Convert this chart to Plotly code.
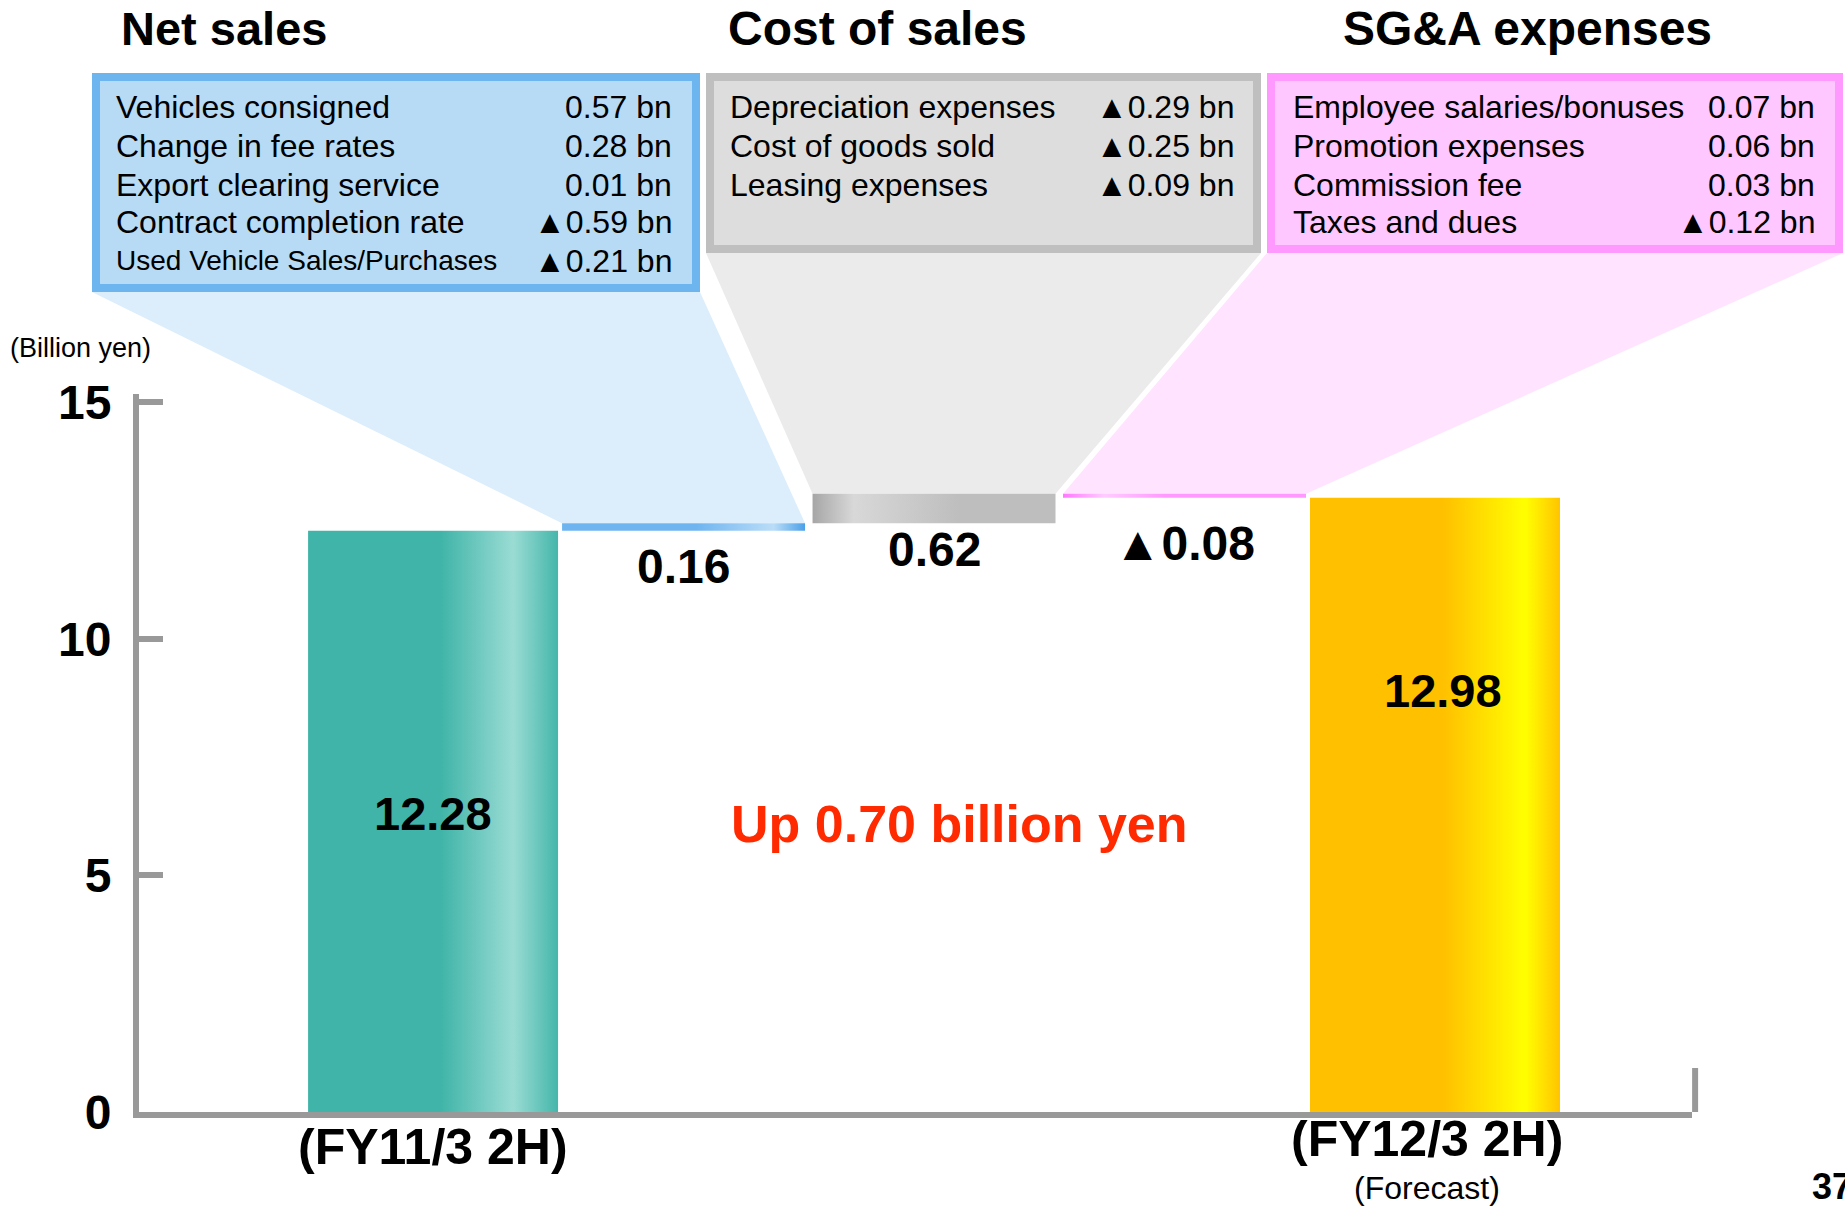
import plotly.graph_objects as go

# ---------------- data ----------------
period_labels = ["(FY11/3 2H)", "(FY12/3 2H)"]
period_note = "(Forecast)"
opening_total = 12.28
closing_total = 12.98
factor_names = ["Net sales", "Cost of sales", "SG&A expenses"]
factor_changes = [0.16, 0.62, -0.08]
summary_text = "Up 0.70 billion yen"
y_ticks = [0, 5, 10, 15]
y_unit = "(Billion yen)"
page_number = "37"

net_sales_items = ["Vehicles consigned", "Change in fee rates", "Export clearing service",
                   "Contract completion rate", "Used Vehicle Sales/Purchases"]
net_sales_values = [0.57, 0.28, 0.01, -0.59, -0.21]
cost_items = ["Depreciation expenses", "Cost of goods sold", "Leasing expenses"]
cost_values = [-0.29, -0.25, -0.09]
sga_items = ["Employee salaries/bonuses", "Promotion expenses", "Commission fee", "Taxes and dues"]
sga_values = [0.07, 0.06, 0.03, -0.12]

# ---------------- styling ----------------
W, H = 1845, 1210
M_L, M_R, M_T, M_B = 139, 153, 394, 98
X_RANGE = [-1.174, 5.026]
Y_RANGE = [0, 15.17]
FONT = "Liberation Sans, Arial, Helvetica, sans-serif"
AXIS_GREY = "#999999"

TOTAL_HALF = 0.499
STEP_HALF = 0.485

grad_teal = [[0, "#40B4A8"], [0.53, "#40B4A8"], [0.82, "#9ADCD4"], [1, "#45B6AA"]]
grad_yellow = [[0, "#FFC000"], [0.53, "#FFC000"], [0.86, "#FFFF00"], [1, "#FFC400"]]
grad_steps = [
    [[0, "#6EB4F0"], [0.55, "#6EB4F0"], [0.87, "#BADDF8"], [1, "#4AA0E8"]],
    [[0, "#A6A6A6"], [0.17, "#D8D8D8"], [0.6, "#BEBEBE"], [1, "#BEBEBE"]],
    [[0, "#FF77FF"], [0.17, "#FFCCFF"], [0.42, "#FF99FF"], [1, "#FF99FF"]],
]
box_style = [
    dict(x0=92, x1=700, y0=73, y1=292, line="#6DB5EF", fill="#B7DBF5", cone="#DCEDFB",
         left=114, right=674, size=32),
    dict(x0=706, x1=1261, y0=73, y1=253, line="#BFBFBF", fill="#DDDDDD", cone="#EBEBEB",
         left=728, right=1236, size=32),
    dict(x0=1267, x1=1843, y0=73, y1=253, line="#FF99FF", fill="#FFC7FF", cone="#FFE3FF",
         left=1291, right=1817, size=32),
]
heading_style = [dict(x=224, size=47), dict(x=877, size=48), dict(x=1527, size=48)]
row_y = [107, 146, 185, 222, 261]


def fmt(v):
    return ("▲" if v < 0 else "") + f"{abs(v):.2f}"


def px_x(p):
    return (p - M_L) / (W - M_L - M_R)


def px_y(p):
    return (H - M_B - p) / (H - M_T - M_B)


def dx(x):
    return (x - X_RANGE[0]) / (X_RANGE[1] - X_RANGE[0])


def dy(y):
    return (y - Y_RANGE[0]) / (Y_RANGE[1] - Y_RANGE[0])


def bar(xc, half, y0, y1, scale):
    return go.Scatter(
        x=[xc - half, xc + half, xc + half, xc - half, xc - half],
        y=[y0, y0, y1, y1, y0],
        mode="lines", fill="toself",
        line=dict(width=0, color="rgba(0,0,0,0)"),
        fillcolor=scale[0][1],
        fillgradient=dict(type="horizontal", colorscale=scale),
        hoverinfo="skip", showlegend=False,
    )


def note(text, x, y, size, xref="paper", yref="paper", bold=False, color="black",
         xanchor="center", yshift=0):
    return dict(text=text, x=x, y=y, xref=xref, yref=yref, xanchor=xanchor, yanchor="middle",
                yshift=yshift, showarrow=False,
                font=dict(family=FONT, size=size, color=color, weight="bold" if bold else "normal"))


# running levels of the bridge
levels = [opening_total]
for d in factor_changes:
    levels.append(round(levels[-1] + d, 2))

fig = go.Figure()
fig.add_trace(bar(0, TOTAL_HALF, 0, opening_total, grad_teal))
for i, d in enumerate(factor_changes):
    fig.add_trace(bar(i + 1, STEP_HALF, levels[i], levels[i + 1], grad_steps[i]))
fig.add_trace(bar(len(factor_changes) + 1, TOTAL_HALF, 0, closing_total, grad_yellow))

shapes = []
annotations = []

# breakdown boxes with their funnels onto the step bars
breakdowns = [(net_sales_items, net_sales_values), (cost_items, cost_values), (sga_items, sga_values)]
for i, (st, (items, vals)) in enumerate(zip(box_style, breakdowns)):
    xc = i + 1
    top = max(levels[i], levels[i + 1])
    path = (f"M {px_x(st['x0'])},{px_y(st['y1'])} "
            f"L {px_x(st['x1'])},{px_y(st['y1'])} "
            f"L {dx(xc + STEP_HALF)},{dy(top)} "
            f"L {dx(xc - STEP_HALF)},{dy(top)} Z")
    shapes.append(dict(type="path", path=path, xref="paper", yref="paper",
                       fillcolor=st["cone"], line=dict(width=0), layer="below"))
    shapes.append(dict(type="rect", xref="paper", yref="paper",
                       x0=px_x(st["x0"] + 4), x1=px_x(st["x1"] - 4),
                       y0=px_y(st["y0"] + 4), y1=px_y(st["y1"] - 4),
                       fillcolor=st["fill"], line=dict(color=st["line"], width=8), layer="below"))
    for r, (name, v) in enumerate(zip(items, vals)):
        size = st["size"]
        if i == 0 and r == len(items) - 1:
            size = 28
        annotations.append(note(name, px_x(st["left"]), px_y(row_y[r]), size, xanchor="left"))
        annotations.append(note(fmt(v) + " bn", px_x(st["right"]), px_y(row_y[r]),
                                st["size"], xanchor="right"))
    hs = heading_style[i]
    annotations.append(note(factor_names[i], px_x(hs["x"]), px_y(29), hs["size"], bold=True))

# value labels on the bars
annotations.append(note(f"{opening_total:.2f}", 0, 6.3, 47, xref="x", yref="y", bold=True))
annotations.append(note(f"{closing_total:.2f}", 4.03, 8.9, 47, xref="x", yref="y", bold=True))
step_label_gap = [36, 26, 46]
for i, d in enumerate(factor_changes):
    bottom = min(levels[i], levels[i + 1])
    annotations.append(note(fmt(d), i + 1, bottom, 48, xref="x", yref="y", bold=True,
                            yshift=-step_label_gap[i]))

# period labels under the axis
annotations.append(note(period_labels[0], 0, px_y(1147), 50, xref="x", bold=True))
annotations.append(note(period_labels[1], 3.97, px_y(1139), 50, xref="x", bold=True))
annotations.append(note(period_note, 3.97, px_y(1188), 32, xref="x"))

# summary, unit and page number
annotations.append(note(summary_text, px_x(959), px_y(824), 52, bold=True, color="#FF2A00"))
annotations.append(note(y_unit, px_x(80), px_y(348), 27))
annotations.append(note(page_number, px_x(1810), px_y(1186), 36, bold=True, xanchor="left"))

# end stub of the baseline
shapes.append(dict(type="line", xref="paper", yref="y", x0=1.002, x1=1.002, y0=0, y1=0.93,
                   line=dict(color=AXIS_GREY, width=6)))

fig.update_layout(
    width=W, height=H,
    margin=dict(l=M_L, r=M_R, t=M_T, b=M_B),
    paper_bgcolor="white", plot_bgcolor="white",
    showlegend=False,
    shapes=shapes, annotations=annotations,
    xaxis=dict(range=X_RANGE, showline=True, linecolor=AXIS_GREY, linewidth=6,
               showgrid=False, zeroline=False, showticklabels=False, ticks=""),
    yaxis=dict(range=Y_RANGE, showline=True, linecolor=AXIS_GREY, linewidth=6,
               showgrid=False, zeroline=False, tickvals=y_ticks, ticks="inside",
               ticklen=24, tickwidth=6, tickcolor=AXIS_GREY, ticklabelstandoff=12,
               tickfont=dict(family=FONT, size=48, color="black", weight="bold")),
)

fig.write_html("out.html")
